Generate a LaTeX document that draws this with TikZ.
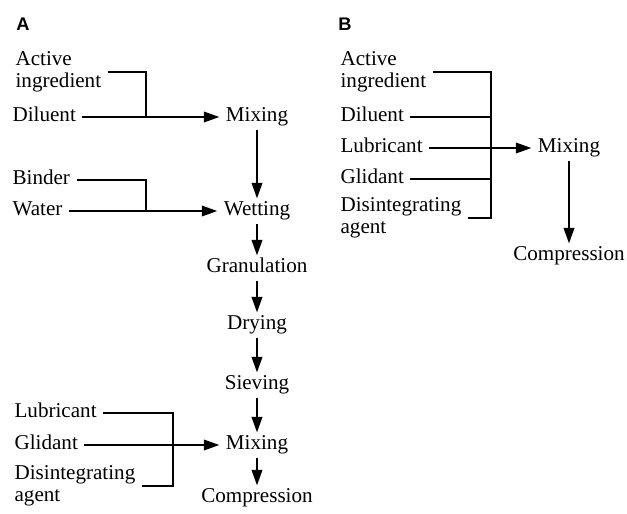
\documentclass[tikz,border=0pt]{standalone}
\usepackage{fontspec}
\setmainfont{Liberation Serif}
\setsansfont{Liberation Sans}
\usepackage{tikz}
\usetikzlibrary{arrows.meta, positioning}

\begin{document}
\begin{tikzpicture}[
    x=0.025cm, y=-0.025cm,
    font=\fontsize{15}{15.3}\selectfont,
    panel/.style={font=\sffamily\bfseries\fontsize{13}{13}\selectfont, inner sep=0pt},
    item/.style={inner sep=4.5pt, text height=0.75em, text depth=0.1em},
    multi/.style={inner sep=4.5pt, align=left},
    link/.style={draw, line width=1.3pt},
    arr/.style={link, -{Triangle[length=11pt, width=7.5pt]}}
]
    \useasboundingbox (0,0) rectangle (627,514);

    % panel A
    \node [panel] (labA) at (23,24) {A};

    \node [multi, anchor=west] (actA) at (9,72) {Active\\ingredient};
    \node [item, anchor=west] (dilA) at (6,117) {Diluent};
    \node [item] (mixA1) at (257,117) {Mixing};
    \coordinate (jA1) at (146,117);

    \node [item, anchor=west] (bndA) at (6,180) {Binder};
    \node [item, anchor=west] (watA) at (6,211) {Water};
    \node [item] (wetA) at (257,211) {Wetting};
    \coordinate (jA2) at (146,211);

    \node [item] (granA) at (257,268) {Granulation};
    \node [item] (dryA) at (257,325) {Drying};
    \node [item] (sievA) at (257,385) {Sieving};

    \node [item, anchor=west] (lubA) at (8,413) {Lubricant};
    \node [item, anchor=west] (gliA) at (8,445) {Glidant};
    \node [multi, anchor=west] (disA) at (8,486) {Disintegrating\\agent};
    \node [item] (mixA2) at (257,445) {Mixing};
    \node [item] (compA) at (257,498) {Compression};
    \coordinate (jA3) at (173,445);

    \draw [link] (actA.east) -| (jA1);
    \draw [arr] (dilA) -- (mixA1);
    \draw [link] (bndA.east) -| (jA2);
    \draw [arr] (watA) -- (wetA);
    \draw [link] (lubA.east) -| (jA3);
    \draw [link] (disA.east) -| (jA3);
    \draw [arr] (gliA) -- (mixA2);

    \draw [arr] (mixA1) -- (wetA);
    \draw [arr] (wetA) -- (granA);
    \draw [arr] (granA) -- (dryA);
    \draw [arr] (dryA) -- (sievA);
    \draw [arr] (sievA) -- (mixA2);
    \draw [arr] (mixA2) -- (compA);

    % panel B
    \node [panel] (labB) at (345,24) {B};

    \node [multi, anchor=west] (actB) at (334,72) {Active\\ingredient};
    \node [item, anchor=west] (dilB) at (334,117) {Diluent};
    \node [item, anchor=west] (lubB) at (334,148) {Lubricant};
    \node [item, anchor=west] (gliB) at (334,179) {Glidant};
    \node [multi, anchor=west] (disB) at (334,218) {Disintegrating\\agent};
    \node [item] (mixB) at (569,148) {Mixing};
    \node [item] (compB) at (569,256) {Compression};
    \coordinate (jB) at (491,148);

    \draw [link] (actB.east) -| (jB);
    \draw [link] (disB.east) -| (jB);
    \draw [link] (dilB.east) -- (dilB.east -| jB);
    \draw [link] (gliB.east) -- (gliB.east -| jB);
    \draw [arr] (lubB) -- (mixB);
    \draw [arr] (mixB) -- (compB);

\end{tikzpicture}
\end{document}
